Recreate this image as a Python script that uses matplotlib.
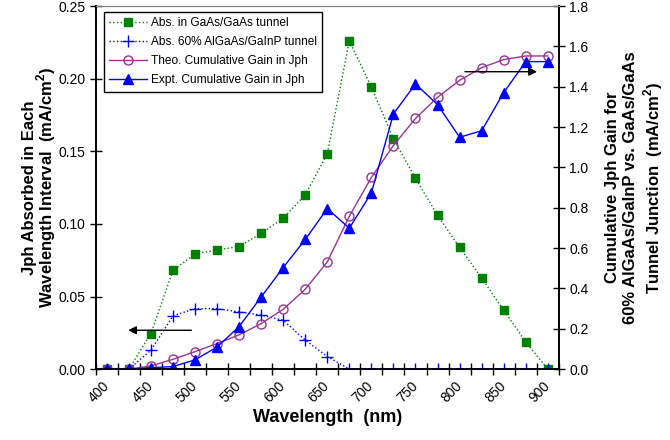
import numpy as np
import matplotlib.pyplot as plt
import matplotlib.transforms as mtransforms
from matplotlib.ticker import FixedLocator, FormatStrFormatter

plt.rcParams['font.family'] = ['Liberation Sans', 'DejaVu Sans']
plt.rcParams['mathtext.fontset'] = 'custom'
plt.rcParams['mathtext.rm'] = 'Liberation Sans'
plt.rcParams['mathtext.bf'] = 'Liberation Sans:bold'

# wavelength categories (nm)
wavelength = np.arange(400, 901, 25)

# absorbed Jph in each interval (left axis)
abs_gaas = [0.0, 0.0, 0.0245, 0.068, 0.0794, 0.0821, 0.0844, 0.0936, 0.1039, 0.120,
            0.1484, 0.2261, 0.1943, 0.1587, 0.1314, 0.106, 0.0839, 0.0628, 0.0406,
            0.0188, 0.0]
abs_algaas = [0.0, 0.0, 0.013, 0.0367, 0.0417, 0.0417, 0.0394, 0.0372, 0.0337, 0.020,
              0.0087, 0.0, 0.0, 0.0, 0.0, 0.0, 0.0, 0.0, 0.0, 0.0, 0.0]

# cumulative gain (right axis)
theo_gain = [0.0, 0.0, 0.016, 0.049, 0.087, 0.127, 0.170, 0.226, 0.297, 0.396, 0.532,
             0.758, 0.951, 1.109, 1.243, 1.348, 1.432, 1.495, 1.535, 1.553, 1.553]
expt_gain = [0.0, 0.0, 0.007, 0.013, 0.046, 0.110, 0.211, 0.358, 0.504, 0.643, 0.796,
             0.699, 0.874, 1.266, 1.414, 1.312, 1.150, 1.182, 1.371, 1.525, 1.525]

green = '#008000'
blue = '#0000FF'
purple = '#993399'

fig = plt.figure(figsize=(6.7, 4.4), dpi=100)
ax = fig.add_axes([0.143, 0.161, 0.691, 0.825])
ax2 = ax.twinx()

l1, = ax.plot(wavelength, abs_gaas, ':', color=green, lw=1, marker='s', ms=6,
              mfc=green, mec=green, label='Abs. in GaAs/GaAs tunnel', zorder=3)
l2, = ax.plot(wavelength, abs_algaas, ':', color=blue, lw=1, marker='+', ms=8,
              mew=1, label='Abs. 60% AlGaAs/GaInP tunnel', zorder=3)
l3, = ax2.plot(wavelength, theo_gain, '-', color=purple, lw=1, marker='o', ms=6.5,
               mfc='none', mec=purple, label='Theo. Cumulative Gain in Jph')
l4, = ax2.plot(wavelength, expt_gain, '-', color=blue, lw=1, marker='^', ms=6.5,
               mfc=blue, mec=blue, label='Expt. Cumulative Gain in Jph')

ax.set_xlim(387.5, 912.5)
ax.set_ylim(0, 0.25)
ax2.set_ylim(0, 1.8)

ax.xaxis.set_major_locator(FixedLocator(np.arange(400, 901, 50)))
ax.xaxis.set_minor_locator(FixedLocator(np.arange(387.5, 913, 25)))
ax.tick_params(axis='x', which='major', length=0, labelsize=10, pad=7)
ax.tick_params(axis='x', which='minor', direction='inout', length=8, width=1)
shift = mtransforms.ScaledTranslation(-5 / 100, 0, fig.dpi_scale_trans)
for lab in ax.get_xticklabels():
    lab.set_rotation(45)
    lab.set_ha('right')
    lab.set_rotation_mode('anchor')
    lab.set_transform(lab.get_transform() + shift)

ax.set_yticks(np.arange(0, 0.251, 0.05))
ax.yaxis.set_major_formatter(FormatStrFormatter('%.2f'))
ax.tick_params(axis='y', direction='inout', length=8, width=1, labelsize=10)
ax2.set_yticks(np.arange(0, 1.81, 0.2))
ax2.yaxis.set_major_formatter(FormatStrFormatter('%.1f'))
ax2.tick_params(axis='y', direction='inout', length=8, width=1, labelsize=10)

for a in (ax, ax2):
    a.spines['top'].set_color('#808080')
    a.spines['top'].set_linewidth(0.8)
    for s in ('left', 'right', 'bottom'):
        a.spines[s].set_linewidth(1.2)

ax.set_xlabel('Wavelength  (nm)', fontsize=13, fontweight='bold', labelpad=3)
ax.set_ylabel('Jph Absorbed in Each\nWavelength Interval  (mA/cm$^{\\mathbf{2}}$)',
              fontsize=12, fontweight='bold', labelpad=0, linespacing=0.88)
ax2.set_ylabel('Cumulative Jph Gain for\n60% AlGaAs/GaInP vs. GaAs/GaAs\n'
               'Tunnel Junction  (mA/cm$^{\\mathbf{2}}$)',
               fontsize=12, fontweight='bold', rotation=90, labelpad=12,
               linespacing=1.2)

# arrows showing which axis each group belongs to
ax.annotate('', xy=(421, 0.0268), xytext=(499, 0.0268),
            arrowprops=dict(arrowstyle='-|>', color='black', lw=1, mutation_scale=12))
ax2.annotate('', xy=(891, 1.475), xytext=(803, 1.475),
             arrowprops=dict(arrowstyle='-|>', color='black', lw=1, mutation_scale=12))

leg = ax.legend(handles=[l1, l2, l3, l4], loc='upper left', bbox_to_anchor=(0.017, 0.985),
                fontsize=8.6, frameon=True, fancybox=False, edgecolor='black',
                framealpha=1, borderpad=0.45, handlelength=3.2, labelspacing=0.6,
                handletextpad=0.3, borderaxespad=0)
leg.get_frame().set_linewidth(1)
leg.set_zorder(5)

fig.savefig('out.png', dpi=100)
